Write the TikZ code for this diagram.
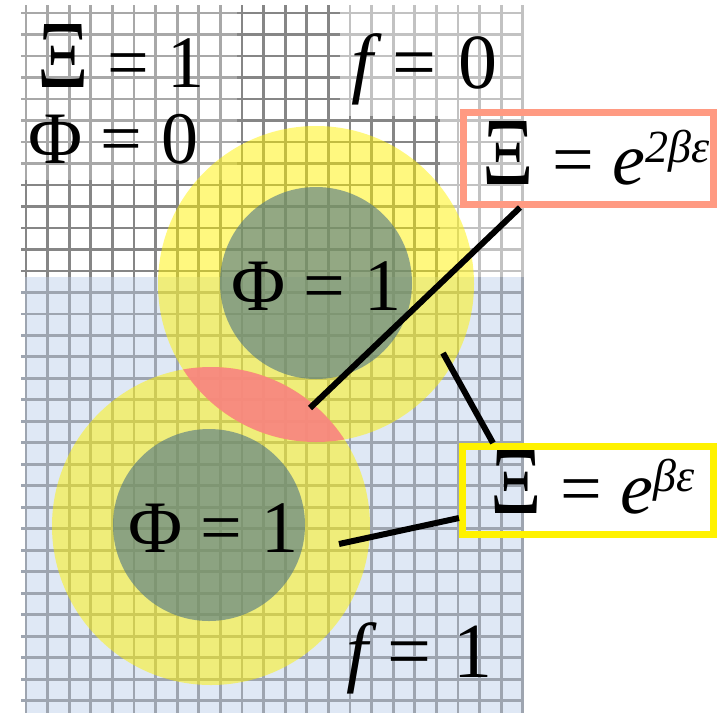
\documentclass[tikz,border=0pt]{standalone}
\usepackage{graphicx}
\usepackage{fontspec}
\setmainfont{Liberation Serif}
\definecolor{bluebg}{HTML}{DFE8F5}
\definecolor{gmed}{HTML}{A8A8A8}
\definecolor{gdark}{HTML}{868686}
\definecolor{glight}{HTML}{C2C2C2}
\definecolor{gblue}{HTML}{9EA5B0}
\definecolor{greenc}{RGB}{75,115,135}
\definecolor{lensc}{RGB}{248,124,139}
\definecolor{salmon}{HTML}{FF9A82}
\newcommand\XiBig{\scalebox{1.08}[1.3]{Ξ}}
\newcommand\mygrid[1]{%
  \foreach \i in {0,...,23} \draw[#1, line width=2.7pt] (26+21.6*\i,5) -- (26+21.6*\i,713);
  \foreach \j in {0,...,32} \draw[#1, line width=2.7pt] (21,13+21.49*\j) -- (522,13+21.49*\j);
}
\tikzset{
  lbl/.style={font=\fontsize{74}{80}\selectfont, inner sep=0pt, anchor=base west},
  flbl/.style={font=\fontsize{78}{84}\selectfont, inner sep=0pt, anchor=base west},
  conn/.style={draw=black, line width=6pt},
  ring/.style={fill=yellow, fill opacity=0.5},
  core/.style={fill=greenc, fill opacity=0.6},
}
\begin{document}
\begin{tikzpicture}[x=1pt,y=-1pt]
\useasboundingbox (0,0) rectangle (717,713);
\fill[white] (0,0) rectangle (717,713);
\fill[bluebg] (25,277) rectangle (522,713);
% grid patches
\begin{scope}\clip (0,0) rectangle (237,180); \mygrid{gmed} \end{scope}
\begin{scope}\clip (237,0) rectangle (340,115); \mygrid{gdark} \end{scope}
\begin{scope}\clip (237,115) rectangle (440,277); \mygrid{gdark} \end{scope}
\begin{scope}\clip (0,180) rectangle (237,277); \mygrid{gdark} \end{scope}
\begin{scope}\clip (340,0) rectangle (717,115); \mygrid{glight} \end{scope}
\begin{scope}\clip (440,115) rectangle (717,277); \mygrid{glight} \end{scope}
\begin{scope}\clip (0,277) rectangle (717,713); \mygrid{gblue} \end{scope}
% circles
\path[ring] (316,284) circle [radius=158];
\path[ring] (211,526) circle [radius=159];
\path[core] (316,283) circle [radius=96];
\path[core] (209,525) circle [radius=96];
\begin{scope}
  \clip (316,284) circle [radius=158];
  \path[fill=lensc, fill opacity=0.85] (211,526) circle [radius=159];
\end{scope}
% boxes
\node[draw=salmon, line width=7pt, minimum width=250pt, minimum height=92pt, inner sep=0pt, outer sep=3.5pt] (rbox) at (588.5,158) {};
\node[draw=yellow, line width=7pt, minimum width=251pt, minimum height=88pt, inner sep=0pt, outer sep=3.5pt] (ybox) at (588,490.5) {};
% texts
\node[lbl] (xi1) at (37,87) {\XiBig{} = 1};
\node[lbl] (phi0) at (28,163) {Φ = 0};
\node[flbl] (f0) at (351,88) {{\itshape f}\hspace{20pt}=\hspace{22pt}0};
\node[lbl] (phiA) at (231,310) {Φ = 1};
\node[lbl] (phiB) at (128,552) {Φ = 1};
\node[flbl] (f1) at (346,677) {{\itshape f}\hspace{20pt}=\hspace{22pt}1};
\node[lbl] (rtext) at (482,184) {\XiBig{} = {\itshape e}\raisebox{22pt}{\fontsize{46}{50}\selectfont\itshape 2βε}};
\node[lbl] (ytext) at (490,513) {\XiBig{} = {\itshape e}\raisebox{22pt}{\fontsize{46}{50}\selectfont\itshape βε}};
% connectors
\coordinate (a1) at (310,408);
\coordinate (a2) at (443,353);
\coordinate (a3) at (339,544);
\draw[conn] (a1) -- ([xshift=60pt]rbox.south west);
\draw[conn] (a2) -- ([xshift=34pt]ybox.north west);
\draw[conn] (a3) -- ([yshift=-27.5pt]ybox.west);
\end{tikzpicture}
\end{document}
